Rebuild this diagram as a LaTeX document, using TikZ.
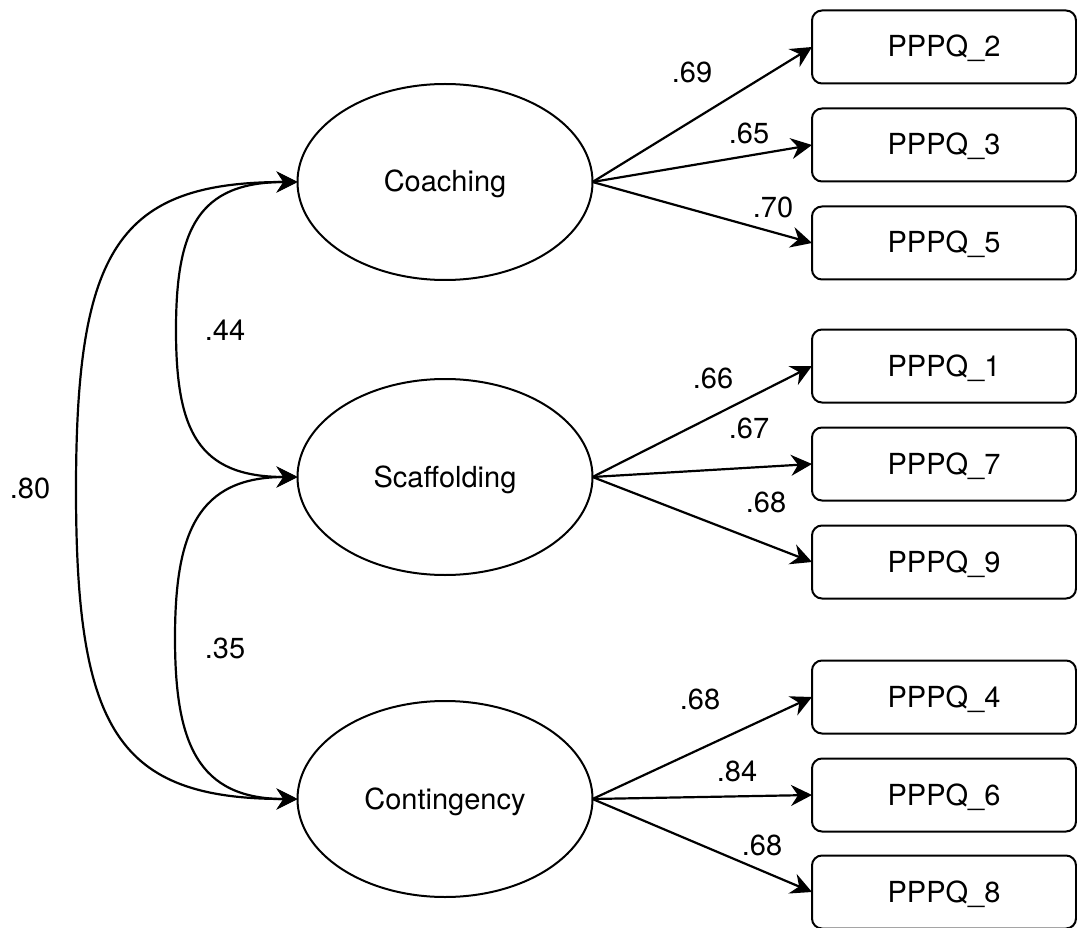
\documentclass[tikz,border=0pt]{standalone}
\usepackage{fontspec}
\setmainfont{TeX Gyre Heros}
\usetikzlibrary{arrows.meta,shapes.geometric}
\begin{document}
\begin{tikzpicture}[x=1pt,y=-1pt,
  font=\fontsize{29}{34}\selectfont,
  lat/.style={ellipse,draw,line width=2pt,minimum width=295pt,minimum height=196pt,
    inner sep=0pt,outer sep=0pt,text height=20pt,text depth=0pt},
  obs/.style={rectangle,rounded corners=10pt,draw,line width=2pt,minimum width=264pt,
    minimum height=73pt,inner sep=0pt,outer sep=0pt,text height=20pt,text depth=0pt},
  tipx/.tip={Stealth[length=21pt,width=21pt,inset=7pt]},
  load/.style={line width=2.2pt,-tipx},
  cov/.style={line width=2.2pt,tipx-tipx},
  coef/.style={inner sep=0pt}]
\useasboundingbox (0,0) rectangle (1077,928);

% latent variables
\node[lat] (co) at (445,182) {Coaching};
\node[lat] (sc) at (445,477) {Scaffolding};
\node[lat] (ct) at (445,799) {Contingency};

% observed variables
\node[obs] (q2) at (944,47)  {PPPQ\_2};
\node[obs] (q3) at (944,145) {PPPQ\_3};
\node[obs] (q5) at (944,243) {PPPQ\_5};
\node[obs] (q1) at (944,366) {PPPQ\_1};
\node[obs] (q7) at (944,464) {PPPQ\_7};
\node[obs] (q9) at (944,562) {PPPQ\_9};
\node[obs] (q4) at (944,697) {PPPQ\_4};
\node[obs] (q6) at (944,795) {PPPQ\_6};
\node[obs] (q8) at (944,892) {PPPQ\_8};

% loadings
\draw[load] (co.east) -- (q2.west);
\draw[load] (co.east) -- (q3.west);
\draw[load] (co.east) -- (q5.west);
\draw[load] (sc.east) -- (q1.west);
\draw[load] (sc.east) -- (q7.west);
\draw[load] (sc.east) -- (q9.west);
\draw[load] (ct.east) -- (q4.west);
\draw[load] (ct.east) -- (q6.west);
\draw[load] (ct.east) -- (q8.west);

\node[coef] (l69) at (692,72)  {.69};
\node[coef] (l65) at (749,133) {.65};
\node[coef] (l70) at (773,207) {.70};
\node[coef] (l66) at (713,378) {.66};
\node[coef] (l67) at (749,428) {.67};
\node[coef] (l68a) at (766,502) {.68};
\node[coef] (l68b) at (700,699) {.68};
\node[coef] (l84) at (737,771) {.84};
\node[coef] (l68c) at (762,845) {.68};

% covariances
\coordinate (m44) at (176,330);
\coordinate (m35) at (175,638);
\coordinate (m80) at (76,490);
\draw[cov] (co.west) .. controls +(-100,0) and +(0,-100) .. (m44)
  .. controls +(0,100) and +(-100,0) .. (sc.west);
\draw[cov] (sc.west) .. controls +(-100,0) and +(0,-105) .. (m35)
  .. controls +(0,105) and +(-100,0) .. (ct.west);
\draw[cov] (co.west) .. controls +(-180,0) and +(0,-240) .. (m80)
  .. controls +(0,240) and +(-180,0) .. (ct.west);

\node[coef] (l44) at (225,330) {.44};
\node[coef] (l35) at (225,648) {.35};
\node[coef] (l80) at (30,488)  {.80};
\end{tikzpicture}
\end{document}
